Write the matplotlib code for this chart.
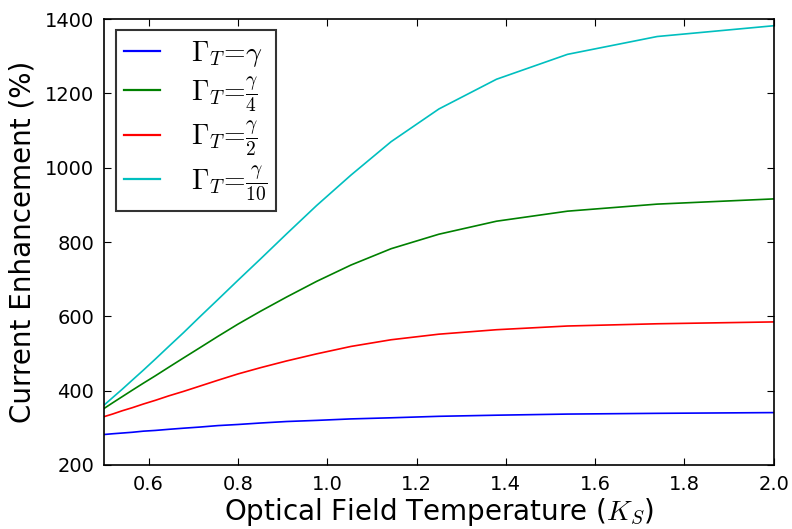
import matplotlib
matplotlib.use("Agg")
import matplotlib.pyplot as plt

plt.rcParams["mathtext.fontset"] = "cm"
plt.rcParams["font.family"] = "DejaVu Sans"

temperature = [0.5, 0.519, 0.541, 0.563, 0.588, 0.615, 0.645, 0.678, 0.714, 0.755,
               0.8, 0.851, 0.909, 0.976, 1.053, 1.143, 1.25, 1.379, 1.538, 1.739, 2.0]

gamma_full = [282, 284, 286, 288, 291, 293, 296, 299, 302, 306,
              309, 313, 317, 320, 324, 327, 331, 334, 337, 339, 341]
gamma_quarter = [352, 367, 384, 401, 420, 440, 463, 488, 515, 546,
                 579, 614, 652, 694, 738, 782, 821, 856, 883, 902, 916]
gamma_half = [330, 337, 346, 354, 364, 374, 386, 398, 412, 428,
              445, 462, 480, 499, 519, 537, 552, 564, 574, 580, 585]
gamma_tenth = [361, 381, 404, 428, 455, 485, 519, 556, 598, 645,
               697, 755, 822, 898, 980, 1070, 1158, 1238, 1305, 1353, 1382]

series = [
    (gamma_full, "#0000ff", r"$\Gamma_T\!=\!\gamma$"),
    (gamma_quarter, "#008000", r"$\Gamma_T\!=\!\frac{\gamma}{4}$"),
    (gamma_half, "#ff0000", r"$\Gamma_T\!=\!\frac{\gamma}{2}$"),
    (gamma_tenth, "#00bfbf", r"$\Gamma_T\!=\!\frac{\gamma}{10}$"),
]

fig = plt.figure(figsize=(7.92, 5.29), dpi=100)
ax = fig.add_axes([0.1313, 0.121, 0.8457, 0.843])

for values, color, label in series:
    ax.plot(temperature, values, color=color, linewidth=1.2, label=label)

ax.set_xlim(0.5, 2.0)
ax.set_ylim(200, 1400)
ax.set_xticks([0.6, 0.8, 1.0, 1.2, 1.4, 1.6, 1.8, 2.0])
ax.set_yticks([200, 400, 600, 800, 1000, 1200, 1400])
ax.tick_params(direction="in", top=True, right=True, length=5, width=0.8,
               labelsize=14, pad=7)
for spine in ax.spines.values():
    spine.set_linewidth(1.2)

ax.set_xlabel(r"Optical Field Temperature ($K_S$)", fontsize=20, labelpad=2)
ax.set_ylabel("Current Enhancement (%)", fontsize=20, labelpad=6)

leg = ax.legend(loc="upper left", fontsize=20, handlelength=1.3, labelspacing=0.18,
                handletextpad=1.1, borderpad=0.3, borderaxespad=0, fancybox=False,
                bbox_to_anchor=(0.018, 0.975))
leg.get_frame().set_edgecolor("black")
leg.get_frame().set_linewidth(1.5)
for handle in leg.get_lines():
    handle.set_linewidth(1.6)

fig.savefig("out.png", dpi=100)
